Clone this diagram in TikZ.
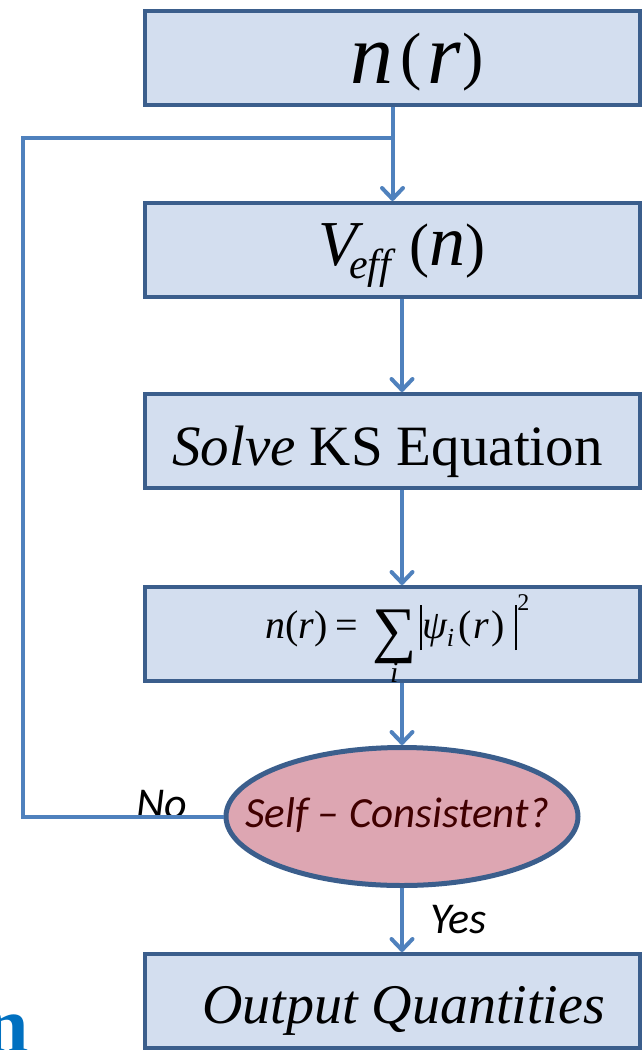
\documentclass[tikz,border=0pt]{standalone}
\usepackage{fontspec}
\setmainfont{Liberation Serif}[ItalicFont={Liberation Serif Italic},BoldFont={Liberation Serif Bold},BoldItalicFont={Liberation Serif Bold Italic}]
\newfontfamily\calib{Carlito}
\usetikzlibrary{arrows.meta,shapes.geometric,calc}
\definecolor{boxedge}{HTML}{3B5E8C}
\definecolor{boxfill}{HTML}{D3DEEF}
\definecolor{connc}{HTML}{4F81BD}
\definecolor{ellfill}{HTML}{DDA6B2}
\definecolor{elltext}{HTML}{400000}
\definecolor{blueN}{HTML}{0070C0}
\newsavebox\sumbox
\begin{document}
\begin{tikzpicture}[x=1pt,y=-1pt,
  flowbox/.style={rectangle, draw=boxedge, line width=4pt, fill=boxfill,
    minimum width=495pt, minimum height=94pt, inner sep=0pt},
  decision/.style={ellipse, draw=boxedge, line width=5pt, fill=ellfill,
    minimum width=352pt, minimum height=138pt, inner sep=0pt},
  txt/.style={inner sep=0pt, anchor=base west},
  link/.style={draw=connc, line width=4pt},
  conn/.style={link, -{Straight Barb[length=11pt,width=21pt,round]}}]
\useasboundingbox (0,0) rectangle (644,1050);
\begin{scope}
\clip (0,0) rectangle (644,1050);
% boxes
\node[flowbox] (b1) at (392.5,58) {};
\node[flowbox] (b2) at (392.5,250) {};
\node[flowbox] (b3) at (392.5,441) {};
\node[flowbox] (b4) at (392.5,634) {};
\node[decision] (e) at (402,816.5) {};
\node[flowbox] (b5) at (392.5,1001) {};
% texts
\node[txt] (t1) at (350,83) {\fontsize{86}{86}\selectfont\itshape n\hspace{7pt}\upshape\raisebox{6pt}{\fontsize{64}{64}\selectfont(}\hspace{6pt}\itshape r\hspace{2pt}\upshape\raisebox{6pt}{\fontsize{64}{64}\selectfont)}};
\node[txt] (t2) at (318,265) {\fontsize{64}{64}\selectfont\itshape V\hspace{-8pt}\upshape\raisebox{-13pt}{\fontsize{42}{42}\selectfont\itshape eff}\hspace{18pt}\fontsize{60}{60}\selectfont(\fontsize{72}{72}\selectfont\itshape n\/\upshape\fontsize{60}{60}\selectfont)};
\node[txt] (t3) at (172,465) {\fontsize{57}{57}\selectfont\textit{Solve} KS Equation};
\node[txt] (t4) at (265,638) {\fontsize{40}{40}\selectfont\itshape n\/\upshape(\itshape r\/\upshape)\hspace{8pt}=\hspace{14pt}%
  \sbox\sumbox{\fontsize{62}{62}\selectfont\raisebox{-12pt}{∑}}\usebox\sumbox\llap{\makebox[\wd\sumbox]{\raisebox{-44pt}{\fontsize{30}{30}\selectfont\itshape i}}}%
  \hspace{4pt}\rule[-12pt]{1.8pt}{45pt}\itshape ψ\raisebox{-8pt}{\fontsize{26}{26}\selectfont i}\hspace{4pt}\upshape(\hspace{2pt}\itshape r\/\hspace{2pt}\upshape)\hspace{11pt}\rule[-12pt]{1.8pt}{45pt}\raisebox{28pt}{\fontsize{24}{24}\selectfont 2}};
\node[txt] (t5) at (202,1023) {\fontsize{56}{56}\selectfont\itshape Output Quantities};
\node[txt, text=elltext] (te) at (245,827) {\calib\itshape\fontsize{43}{43}\selectfont Self – Consistent?};
\node[txt] (no) at (136,818) {\calib\itshape\fontsize{44}{44}\selectfont No};
\node[txt] (yes) at (430,933) {\calib\itshape\fontsize{44}{44}\selectfont Yes};
\node[inner sep=0pt, anchor=base east, text=blueN] (bn) at (29,1052) {\fontsize{80}{80}\selectfont\bfseries n};
% connectors
\coordinate (loop) at (23,138);
\draw[conn] (b1.south) -- (b2.north);
\draw[link] (e.west) -| (loop) -- (loop -| b1.south);
\draw[conn] (b2.south -| e.north) -- (b3.north -| e.north);
\draw[conn] (b3.south -| e.north) -- (b4.north -| e.north);
\draw[conn] (b4.south -| e.north) -- (e.north);
\draw[conn] (e.south) -- (b5.north -| e.south);
\end{scope}
\end{tikzpicture}
\end{document}
